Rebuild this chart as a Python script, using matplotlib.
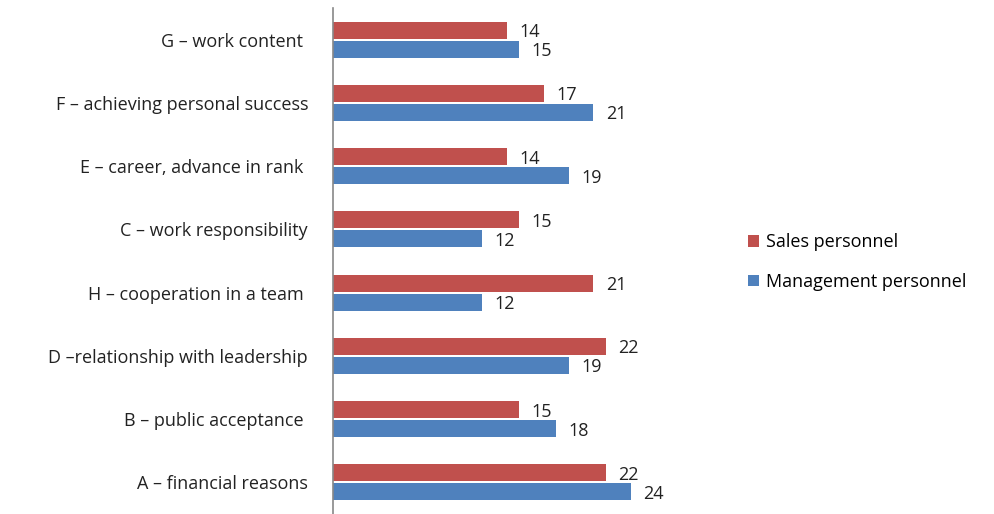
import matplotlib.pyplot as plt
import numpy as np

categories = [
    'A – financial reasons',
    'B – public acceptance ',
    'D –relationship with leadership',
    'H – cooperation in a team ',
    'C – work responsibility',
    'E – career, advance in rank ',
    'F – achieving personal success',
    'G – work content ',
]
sales = [22, 15, 22, 21, 15, 14, 17, 14]
management = [24, 18, 19, 12, 12, 19, 21, 15]

red = '#C0504D'
blue = '#4F81BD'

plt.rcParams['font.family'] = ['Open Sans', 'DejaVu Sans']

fig = plt.figure(figsize=(9.95, 5.14), dpi=100)
ax = fig.add_axes([333 / 995, 0.0, 367 / 995, 1 - 8 / 514])

y = np.arange(len(categories))
h = 0.27
off = 0.15
ax.barh(y + off, sales, height=h, color=red, label='Sales personnel')
ax.barh(y - off, management, height=h, color=blue, label='Management personnel')

for yi, v in zip(y, sales):
    ax.text(v + 1.0, yi + off - 0.03, str(v), va='center', ha='left', fontsize=13, color='#222222')
for yi, v in zip(y, management):
    ax.text(v + 1.0, yi - off - 0.03, str(v), va='center', ha='left', fontsize=13, color='#222222')

ax.set_xlim(0, 367 / 12.4)
ax.set_ylim(-0.5, len(categories) - 0.5)
ax.set_yticks(y)
ax.set_yticklabels(categories, fontsize=13, color='#222222')
ax.tick_params(axis='y', length=0, pad=18)
ax.set_xticks([])
for s in ['top', 'right', 'bottom']:
    ax.spines[s].set_visible(False)
ax.spines['left'].set_color('#888888')
ax.spines['left'].set_linewidth(1.2)

fig.legend(loc='center left', bbox_to_anchor=(732 / 995, 1 - 262 / 514), frameon=False,
           fontsize=13, handlelength=0.6, handleheight=0.6, labelspacing=1.2,
           handletextpad=0.4)

fig.savefig('out.png', dpi=100)
